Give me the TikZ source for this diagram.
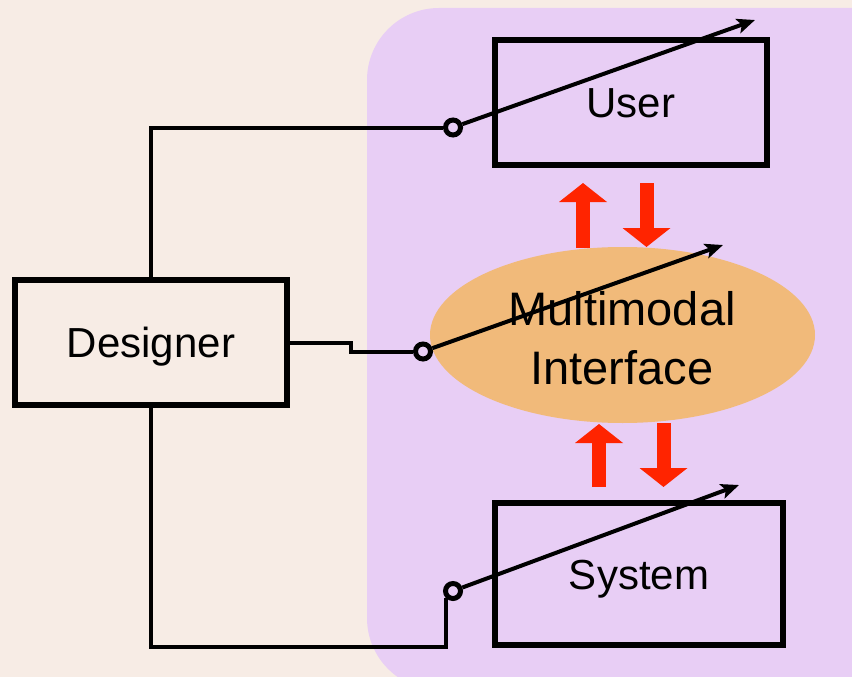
\documentclass[tikz,border=0pt]{standalone}
\usepackage{fontspec}
\setmainfont{Liberation Sans}
\usetikzlibrary{shapes.geometric,arrows.meta}
\definecolor{paper}{RGB}{247,236,229}
\definecolor{lilac}{RGB}{232,206,245}
\definecolor{peach}{RGB}{241,186,122}
\definecolor{signal}{RGB}{255,36,0}
\tikzset{
  box/.style={draw=black,line width=6pt,minimum width=272pt,minimum height=125pt,inner sep=0pt,text height=30pt,text depth=-6pt},
  wire/.style={line width=4pt},
  knob/.style={circle,draw=black,line width=5pt,minimum size=15pt,inner sep=0pt},
  dial/.style={line width=4pt,-{Stealth[length=18pt,width=15pt,inset=4pt]}},
  flow/.style={draw=signal,line width=14pt,-{Triangle[length=19pt,width=47pt]}}
}
\begin{document}
\begin{tikzpicture}[x=1pt,y=-1pt,font=\fontsize{42pt}{59pt}\selectfont]
			\useasboundingbox (0,0) rectangle (852,677);
			\clip (0,0) rectangle (852,677);
			\fill[paper] (0,0) rectangle (852,677);
			\fill[lilac,rounded corners=72pt] (367,8) rectangle (930,690);
			% boxes
			\node[box] (dsg) at (151,342) {Designer};
			\node[box] (usr) at (631,102.5) {User};
			\node[box,minimum width=288pt,minimum height=142pt] (sys) at (639,574) {System};
			\node[ellipse,fill=peach,minimum width=385pt,minimum height=176pt,inner sep=0pt] (mmi) at (622.5,335) {};
			\node[align=center,font=\fontsize{47pt}{59pt}\selectfont] (mmitext) at (622,338.5) {Multimodal\\Interface};
			% red flows
			\draw[flow] (583,248) -- (583,183);
			\draw[flow] (646.5,183) -- (646.5,247);
			\draw[flow] (599,487) -- (599,424);
			\draw[flow] (663.5,423) -- (663.5,487);
			% knobs
			\node[knob] (ku) at (453,127.5) {};
			\node[knob] (km) at (423,351.5) {};
			\node[knob] (ks) at (453,591) {};
			\coordinate (tu) at (755,20);
			\coordinate (tm) at (723,245);
			\coordinate (ts) at (739,485);
			\draw[dial] (ku) -- (tu);
			\draw[dial] (km) -- (tm);
			\draw[dial] (ks) -- (ts);
			% wires from the designer
			\draw[wire] (dsg.north -| 150.5,0) |- (ku);
			\coordinate (step) at (351,343);
			\draw[wire] (dsg.east |- step) -- (step) -- (351,351.5) -- (km);
			\coordinate (sb) at (ks.south west |- 0,647);
			\draw[wire] (dsg.south -| 150.5,0) |- (sb) -- (ks.south west);
		\end{tikzpicture}
\end{document}
